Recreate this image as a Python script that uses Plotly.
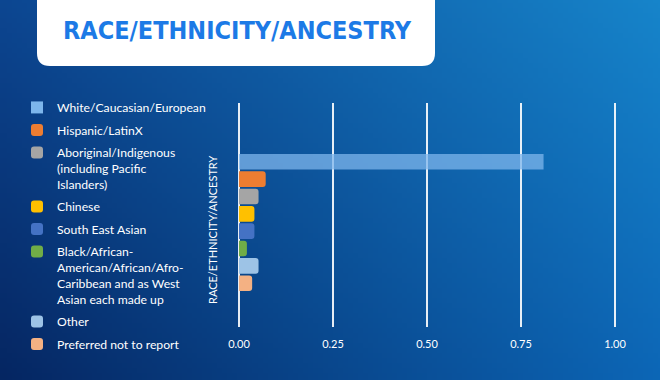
import base64
import struct
import zlib
import plotly.graph_objects as go

# ---------------- data ----------------
categories = [
    "White/Caucasian/European",
    "Hispanic/LatinX",
    "Aboriginal/Indigenous<br>(including Pacific<br>Islanders)",
    "Chinese",
    "South East Asian",
    "Black/African-<br>American/African/Afro-<br>Caribbean and as West<br>Asian each made up",
    "Other",
    "Preferred not to report",
]
values = [0.81, 0.071, 0.052, 0.041, 0.041, 0.021, 0.052, 0.035]
group_label = "RACE/ETHNICITY/ANCESTRY"
tick_vals = [0, 0.25, 0.5, 0.75, 1.0]
tick_text = ["0.00", "0.25", "0.50", "0.75", "1.00"]
title_text = "RACE/ETHNICITY/ANCESTRY"

# ---------------- styles ----------------
colors = ["#7db6ec", "#ed7d31", "#a5a5a5", "#ffc000", "#4472c4", "#70ad47", "#9dc3e6", "#f4b183"]
opacities = [0.75, 1, 1, 1, 1, 1, 1, 1]
radii = [0, 3, 3, 3, 3, 3, 3, 3]

W, H = 660, 380


def background_png(w, h):
    tl, tr = (12, 70, 145), (22, 132, 202)
    bl, br = (5, 38, 98), (12, 102, 182)
    rows = []
    for j in range(h):
        v = j / (h - 1)
        row = bytearray(b"\x00")
        for i in range(w):
            u = i / (w - 1)
            px = []
            for c in range(3):
                top = tl[c] * (1 - u) + tr[c] * u
                bot = bl[c] * (1 - u) + br[c] * u
                px.append(int(round(top * (1 - v) + bot * v)))
            row.extend(px)
        rows.append(bytes(row))
    raw = b"".join(rows)

    def chunk(tag, data):
        c = struct.pack(">I", len(data)) + tag + data
        return c + struct.pack(">I", zlib.crc32(tag + data) & 0xFFFFFFFF)

    png = b"\x89PNG\r\n\x1a\n"
    png += chunk(b"IHDR", struct.pack(">IIBBBBB", w, h, 8, 2, 0, 0, 0))
    png += chunk(b"IDAT", zlib.compress(raw, 9))
    png += chunk(b"IEND", b"")
    return "data:image/png;base64," + base64.b64encode(png).decode()


fig = go.Figure()
for i, (name, val) in enumerate(zip(categories, values)):
    fig.add_trace(go.Bar(
        x=[val], y=[group_label], orientation="h", name=name,
        legendgroup=f"g{i}",
        marker=dict(color=colors[i], opacity=opacities[i], cornerradius=radii[i], line=dict(width=0)),
        hoverinfo="x+name",
    ))


def px_x(p):
    return p / W


def px_y(p):
    return 1 - p / H


# x scale: 0 at px 239, 1 at px 615
x0p, x1p = 239, 615
pad = 0.01
unit = x1p - x0p
fig.update_layout(
    width=W, height=H,
    margin=dict(l=0, r=0, t=0, b=0, pad=0, autoexpand=False),
    paper_bgcolor="#0b4a94",
    plot_bgcolor="rgba(0,0,0,0)",
    barmode="group",
    bargap=0.38,
    bargroupgap=0.1,
    font=dict(family="Lato, 'Open Sans', sans-serif", color="white"),
    showlegend=True,
    legend=dict(
        x=px_x(17), y=px_y(93), xanchor="left", yanchor="top",
        font=dict(size=12.2, color="white", family="Lato, sans-serif"),
        traceorder="grouped", tracegroupgap=3.5, valign="top",
        bgcolor="rgba(0,0,0,0)", maxheight=320,
    ),
    xaxis=dict(
        domain=[px_x(x0p - pad * unit), px_x(x1p + pad * unit)],
        range=[-pad, 1 + pad],
        tickvals=tick_vals, ticktext=tick_text,
        showgrid=True, gridcolor="rgba(255,255,255,0.9)", gridwidth=1.5,
        zeroline=False, showline=False,
        tickfont=dict(size=11, color="white"),
        ticks="", ticklabelstandoff=9,
        fixedrange=True,
    ),
    yaxis=dict(
        domain=[px_y(327), px_y(103)],
        range=[0.4665, -0.5335],
        showticklabels=False, showgrid=False, zeroline=False, showline=False,
        fixedrange=True,
    ),
    images=[dict(
        source=background_png(132, 76), xref="paper", yref="paper",
        x=0, y=1, sizex=1, sizey=1, xanchor="left", yanchor="top",
        sizing="stretch", layer="below",
    )],
    shapes=[dict(
        type="path", xref="paper", yref="paper",
        path=(f"M {px_x(37)} {px_y(-10)} L {px_x(435)} {px_y(-10)} "
              f"L {px_x(435)} {px_y(53)} Q {px_x(435)} {px_y(66)} {px_x(422)} {px_y(66)} "
              f"L {px_x(50)} {px_y(66)} Q {px_x(37)} {px_y(66)} {px_x(37)} {px_y(53)} Z"),
        fillcolor="white", line=dict(width=0), layer="below",
    )],
    annotations=[
        dict(
            text=f"<b>{title_text}</b>", xref="paper", yref="paper",
            x=px_x(237), y=px_y(30), xanchor="center", yanchor="middle",
            showarrow=False,
            font=dict(family="'Liberation Sans Narrow', 'DejaVu Sans Condensed', sans-serif",
                      size=25, color="#1c7ae6"),
        ),
        dict(
            text=group_label, xref="paper", yref="paper",
            x=px_x(212), y=px_y(230), xanchor="center", yanchor="middle",
            textangle=-90, showarrow=False,
            font=dict(size=11, color="white"),
        ),
    ],
)

fig.write_html(
    "out.html",
    config={"displayModeBar": False},
    post_script="document.body.style.margin='0';",
)
